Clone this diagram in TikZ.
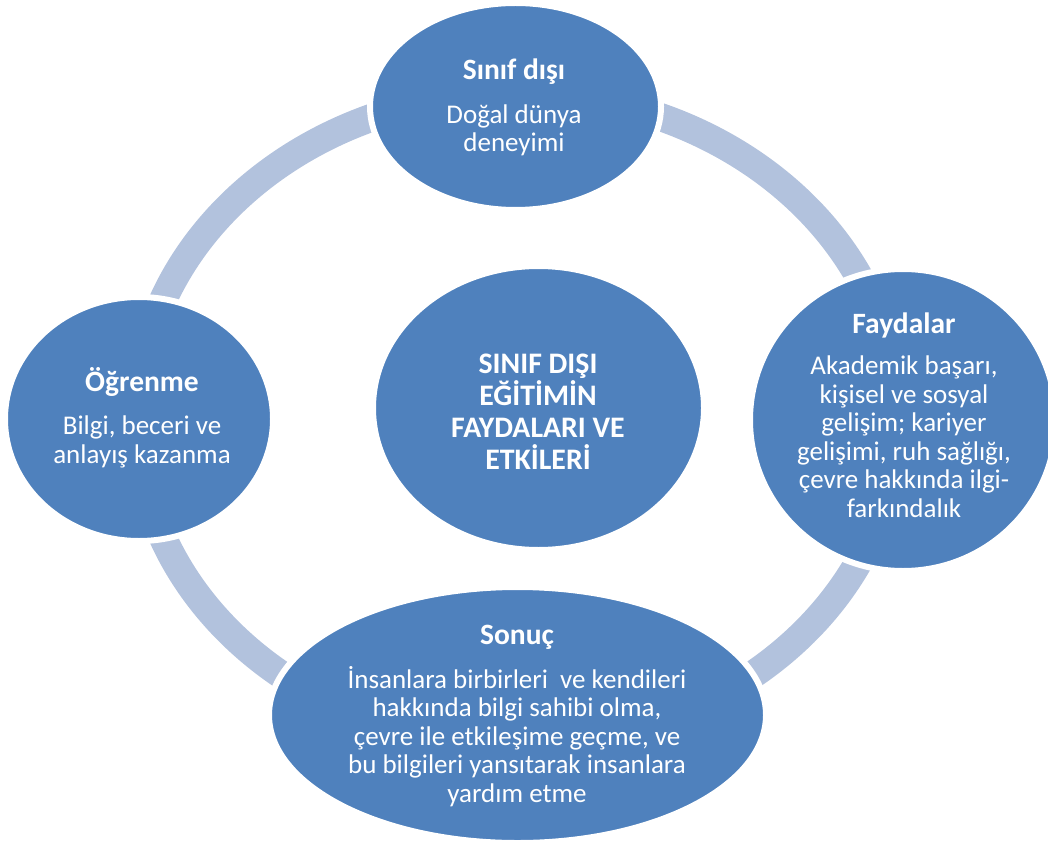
\documentclass[tikz,border=0pt]{standalone}
\usepackage{fontspec}
\setmainfont{Carlito}
\usetikzlibrary{shapes.geometric}
\definecolor{nodeblue}{HTML}{4F81BD}
\definecolor{ringblue}{HTML}{B2C2DD}
\newcommand{\ttl}[1]{{\fontsize{29.5}{28.5}\selectfont\bfseries #1}}
\tikzset{
  bubble/.style={ellipse, fill=nodeblue, draw=white, line width=6pt, inner sep=0pt},
  ringline/.style={draw=ringblue, line width=28pt},
  label/.style={text=white, align=center, anchor=base, inner sep=0pt,
    font=\fontsize{27}{28.5}\selectfont},
  clabel/.style={text=white, align=center, anchor=base, inner sep=0pt,
    font=\fontsize{29.8}{32}\selectfont\bfseries},
}
\begin{document}
\begin{tikzpicture}[x=1pt, y=-1pt]
\useasboundingbox (0,0) rectangle (1048,842);
\coordinate (ringc) at (517,419);
\draw[ringline] (ringc) ellipse [x radius=380pt, y radius=326pt];
\node[bubble, minimum width=291pt, minimum height=207pt] (top) at (515.5,106.5) {};
\node[bubble, minimum width=306pt, minimum height=302pt] (right) at (903,420) {};
\node[bubble, minimum width=268pt, minimum height=244pt] (left) at (139,419) {};
\node[bubble, minimum width=497pt, minimum height=256pt] (bottom) at (517.5,715) {};
\node[bubble, minimum width=331pt, minimum height=284pt] (center) at (538.5,408) {};
\node[label] (toptext) at (514,152) {\ttl{Sınıf dışı}\\[15pt]Doğal dünya\\deneyimi};
\node[label] (righttext) at (904,517) {\ttl{Faydalar}\\[13pt]Akademik başarı,\\kişisel ve sosyal\\gelişim; kariyer\\gelişimi, ruh sağlığı,\\çevre hakkında ilgi-\\farkındalık};
\node[label] (lefttext) at (142,463) {\ttl{Öğrenme}\\[15pt]Bilgi, beceri ve\\anlayış kazanma};
\node[label] (bottomtext) at (517,802) {\ttl{Sonuç}\\[15pt]İnsanlara birbirleri\ \ ve kendileri\\hakkında bilgi sahibi olma,\\çevre ile etkileşime geçme, ve\\bu bilgileri yansıtarak insanlara\\yardım etme};
\node[clabel] (centertext) at (538,469) {SINIF DIŞI\\EĞİTİMİN\\FAYDALARI VE\\ETKİLERİ};
\end{tikzpicture}
\end{document}
